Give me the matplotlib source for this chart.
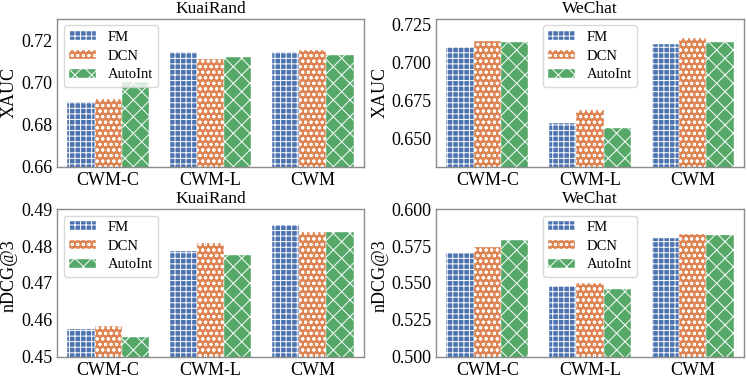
import numpy as np
import matplotlib
matplotlib.use("Agg")
import matplotlib.pyplot as plt

# values
groups = ['CWM-C', 'CWM-L', 'CWM']
models = ['FM', 'DCN', 'AutoInt']

kuai_xauc_fm = [0.6909, 0.7145, 0.7145]
kuai_xauc_dcn = [0.6922, 0.7111, 0.7153]
kuai_xauc_autoint = [0.7001, 0.7122, 0.7130]

wechat_xauc_fm = [0.7102, 0.6602, 0.7122]
wechat_xauc_dcn = [0.7140, 0.6685, 0.7158]
wechat_xauc_autoint = [0.7131, 0.6569, 0.7131]

kuai_ndcg_fm = [0.4575, 0.4787, 0.4857]
kuai_ndcg_dcn = [0.4584, 0.4808, 0.4837]
kuai_ndcg_autoint = [0.4554, 0.4777, 0.4837]

wechat_ndcg_fm = [0.5705, 0.5482, 0.5804]
wechat_ndcg_dcn = [0.5743, 0.5500, 0.5833]
wechat_ndcg_autoint = [0.5793, 0.5462, 0.5824]

colors = ['#4C72B0', '#DD8452', '#55A868']
hatches = ['+++', 'ooo', 'xx']

plt.rcParams['font.family'] = ['Liberation Serif', 'DejaVu Serif']
plt.rcParams['hatch.linewidth'] = 0.7


# one panel = 3 groups x 3 models, seaborn-like layout (width 0.8 per group)
def draw_panel(ax, series, title, ylabel, ylim, yticks, fmt, legend_loc, label_y=0.5):
    x = np.arange(len(groups))
    w = 0.8 / len(models)
    for i, (vals, name) in enumerate(zip(series, models)):
        ax.bar(x - 0.4 + w * (i + 0.5), vals, width=w, color=colors[i],
               hatch=hatches[i], edgecolor='white', linewidth=0.3, label=name)
    ax.set_xlim(-0.5, 2.5)
    ax.set_ylim(*ylim)
    ax.set_yticks(yticks)
    ax.set_yticklabels([fmt.format(t) for t in yticks])
    ax.set_xticks(x)
    ax.set_xticklabels(groups)
    ax.tick_params(length=0, labelsize=13, pad=3.5)
    ax.set_title(title, fontsize=12.5, pad=4)
    ax.set_ylabel(ylabel, fontsize=13, labelpad=2)
    ax.yaxis.label.set_y(label_y)
    for s in ax.spines.values():
        s.set_color('#8c8c8c')
        s.set_linewidth(1.0)
    ax.legend(loc=legend_loc, fontsize=10.5, handlelength=1.85, handleheight=0.57,
              handletextpad=0.8, labelspacing=0.39, borderpad=0.37,
              borderaxespad=0.45, frameon=True, edgecolor='#d0d0d0')


fig = plt.figure(figsize=(7.47, 3.83), dpi=100)
ax1 = fig.add_axes([0.0763, 0.564, 0.411, 0.3866])
ax2 = fig.add_axes([0.5837, 0.564, 0.4123, 0.3866])
ax3 = fig.add_axes([0.0763, 0.0679, 0.411, 0.3864])
ax4 = fig.add_axes([0.5837, 0.0679, 0.4123, 0.3864])

draw_panel(ax1, [kuai_xauc_fm, kuai_xauc_dcn, kuai_xauc_autoint], 'KuaiRand', 'XAUC',
           (0.66, 0.73), [0.66, 0.68, 0.70, 0.72], '{:.2f}', 'upper left')
draw_panel(ax2, [wechat_xauc_fm, wechat_xauc_dcn, wechat_xauc_autoint], 'WeChat', 'XAUC',
           (0.631, 0.7285), [0.650, 0.675, 0.700, 0.725], '{:.3f}', 'upper center')
draw_panel(ax3, [kuai_ndcg_fm, kuai_ndcg_dcn, kuai_ndcg_autoint], 'KuaiRand', 'nDCG@3',
           (0.45, 0.49), [0.45, 0.46, 0.47, 0.48, 0.49], '{:.2f}', 'upper left', 0.55)
draw_panel(ax4, [wechat_ndcg_fm, wechat_ndcg_dcn, wechat_ndcg_autoint], 'WeChat', 'nDCG@3',
           (0.5, 0.6), [0.500, 0.525, 0.550, 0.575, 0.600], '{:.3f}', 'upper center', 0.55)

fig.savefig('out.png', dpi=100)
